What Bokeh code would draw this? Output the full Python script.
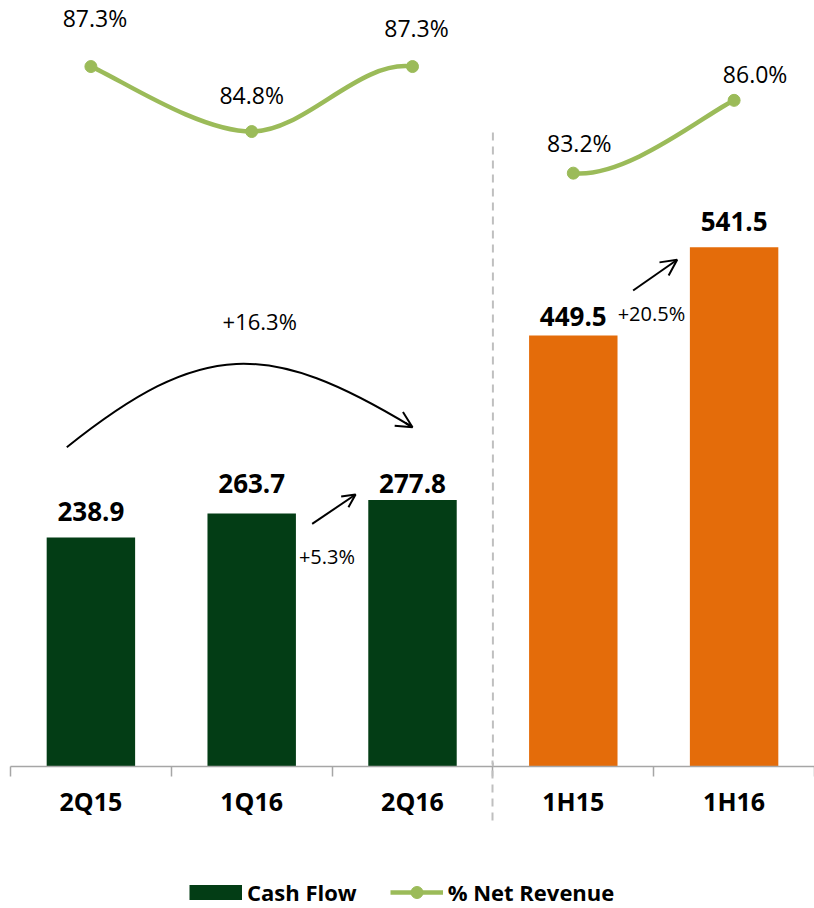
from bokeh.plotting import figure
from bokeh.layouts import column
from bokeh.models import (Range1d, FixedTicker, Arrow, OpenHead, Legend, LegendItem, LinearAxis)
from bokeh.core.properties import value
from bokeh.embed import file_html
from bokeh.resources import INLINE

# ---------------- data ----------------
categories = ["2Q15", "1Q16", "2Q16", "1H15", "1H16"]
cash_flow = [238.9, 263.7, 277.8, 449.5, 541.5]
net_revenue_pct = [87.3, 84.8, 87.3, 83.2, 86.0]
n_quarters = 3  # first three are quarters, the last two are half-years

# ---------------- style ----------------
DARK_GREEN = "#033D15"
ORANGE = "#E46C0A"
LINE_GREEN = "#9BBB59"
AXIS_GREY = "#A6A6A6"
SEP_GREY = "#BFBFBF"
FONT = "Open Sans"
TXT_SHIFT = -9  # vertical nudge of all in-plot texts (px)

xs = [i + 0.5 for i in range(len(categories))]
bar_colors = [DARK_GREEN] * n_quarters + [ORANGE] * (len(categories) - n_quarters)

p = figure(width=814, height=850,
           x_range=Range1d(0, len(categories)), y_range=Range1d(0, 798.75),
           output_backend="svg", toolbar_location=None,
           y_axis_location=None, x_axis_location="below",
           min_border_left=10, min_border_right=0, min_border_top=0,
           min_border_bottom=84)
p.extra_y_ranges = {"pct": Range1d(60.38, 89.84)}
p.xgrid.visible = False
p.ygrid.visible = False
p.outline_line_color = None
p.background_fill_color = "white"
p.border_fill_color = "white"

# ---------------- x axis ----------------
ax = p.xaxis[0]
ax.ticker = FixedTicker(ticks=xs, minor_ticks=list(range(len(categories) + 1)))
ax.major_label_overrides = {x: c for x, c in zip(xs, categories)}
ax.axis_line_color = AXIS_GREY
ax.axis_line_width = 1.5
ax.major_tick_out = 0
ax.major_tick_in = 0
ax.major_tick_line_color = None
ax.minor_tick_out = 10
ax.minor_tick_in = 0
ax.minor_tick_line_color = AXIS_GREY
ax.minor_tick_line_width = 1.5
ax.major_label_text_font = FONT
ax.major_label_text_font_style = "bold"
ax.major_label_text_font_size = "25px"
ax.major_label_text_color = "black"
ax.major_label_standoff = 7

# second (label-less) axis that only carries the dashed separator below the axis line
sep_axis = LinearAxis(ticker=FixedTicker(ticks=[n_quarters], minor_ticks=[]),
                      major_label_overrides={n_quarters: ""},
                      major_label_text_font_size="1px", major_label_standoff=0,
                      axis_line_color=None, minor_tick_line_color=None,
                      major_tick_in=60, major_tick_out=0,
                      major_tick_line_color=SEP_GREY, major_tick_line_width=2,
                      major_tick_line_dash="8 6")
p.add_layout(sep_axis, "below")

# ---------------- bars ----------------
p.vbar(x=xs, top=cash_flow, width=0.55, fill_color=bar_colors, line_color=None)

bar_label_dy = [d + TXT_SHIFT for d in [-17, -21, -8, -10, -17]]
p.text(x=xs, y=cash_flow, text=[f"{v:.1f}" for v in cash_flow],
       y_offset=bar_label_dy, text_align="center", text_baseline="alphabetic",
       text_font=value(FONT), text_font_style="bold", text_font_size="26px",
       text_color="black")

# ---------------- smoothed % line (Catmull-Rom style bezier) ----------------
pts = list(zip(xs, net_revenue_pct))
def ctrl(i, j):
    a = pts[max(i - 1, 0)]
    b = pts[i]
    c = pts[j]
    d = pts[min(j + 1, len(pts) - 1)]
    c0 = (b[0] + (c[0] - a[0]) / 6, b[1] + (c[1] - a[1]) / 6)
    c1 = (c[0] - (d[0] - b[0]) / 6, c[1] - (d[1] - b[1]) / 6)
    return b, c0, c1, c

segments = [(0, 1), (1, 2), (3, 4)]
sx0, sy0, sx1, sy1, scx0, scy0, scx1, scy1 = ([] for _ in range(8))
for i, j in segments:
    b, c0, c1, c = ctrl(i, j)
    sx0.append(b[0]); sy0.append(b[1]); sx1.append(c[0]); sy1.append(c[1])
    scx0.append(c0[0]); scy0.append(c0[1]); scx1.append(c1[0]); scy1.append(c1[1])

p.bezier(x0=sx0, y0=sy0, x1=sx1, y1=sy1, cx0=scx0, cy0=scy0, cx1=scx1, cy1=scy1,
         line_color=LINE_GREEN, line_width=4.5, y_range_name="pct")
pct_pts = p.scatter(x=xs, y=net_revenue_pct, size=12, marker="circle",
                    fill_color=LINE_GREEN, line_color=LINE_GREEN, y_range_name="pct")

pct_dx = [4, 0, 4, 6, 21]
pct_dy = [d + TXT_SHIFT for d in [-40, -28, -30, -21, -17]]
p.text(x=xs, y=net_revenue_pct, text=[f"{v:.1f}%" for v in net_revenue_pct],
       x_offset=pct_dx, y_offset=pct_dy, y_range_name="pct",
       text_align="center", text_baseline="alphabetic",
       text_font=value(FONT), text_font_size="23px", text_color="black")

# ---------------- separator (inside the plot area) ----------------
p.add_layout(Arrow(end=None, x_start=n_quarters, y_start=661, x_end=n_quarters, y_end=0,
                   line_color=SEP_GREY, line_width=2, line_dash="8 6"))

# ---------------- growth annotations ----------------
def growth(a, b):
    return f"+{(b / a - 1) * 100:.1f}%"

# curved arrow 2Q15 -> 2Q16
a0 = (xs[0] - 0.15, cash_flow[0] + 94)
a3 = (xs[2], cash_flow[2] + 76)
a1 = (xs[1] - 0.308, cash_flow[2] + 168)
a2 = (xs[1] + 0.103, cash_flow[2] + 167)
p.bezier(x0=[a0[0]], y0=[a0[1]], x1=[a3[0]], y1=[a3[1]],
         cx0=[a1[0]], cy0=[a1[1]], cx1=[a2[0]], cy1=[a2[1]],
         line_color="black", line_width=2)
eps = 0.05
p.add_layout(Arrow(end=OpenHead(size=16, line_width=2, line_color="black"),
                   x_start=a3[0] - eps * (a3[0] - a2[0]), y_start=a3[1] - eps * (a3[1] - a2[1]),
                   x_end=a3[0], y_end=a3[1], line_width=2, line_color="black"))

# straight arrows
p.add_layout(Arrow(end=OpenHead(size=13, line_width=2, line_color="black"),
                   x_start=xs[1] + 0.376, y_start=cash_flow[1] - 10.7,
                   x_end=xs[2] - 0.354, y_end=cash_flow[2] + 5.8,
                   line_width=2, line_color="black"))
p.add_layout(Arrow(end=OpenHead(size=16, line_width=2, line_color="black"),
                   x_start=xs[3] + 0.372, y_start=cash_flow[3] + 46.8,
                   x_end=xs[4] - 0.354, y_end=cash_flow[4] - 13.1,
                   line_width=2, line_color="black"))

g_x = [xs[1] + 0.05, xs[1] + 0.468, xs[3] + 0.486]
g_y = [cash_flow[2] + 177, cash_flow[1] - 54, cash_flow[3] + 13.8]
g_t = [growth(cash_flow[0], cash_flow[2]), growth(cash_flow[1], cash_flow[2]),
       growth(cash_flow[3], cash_flow[4])]
g_s = ["22px", "20px", "20px"]
for x, y, t, s in zip(g_x, g_y, g_t, g_s):
    p.text(x=[x], y=[y], text=[t], y_offset=TXT_SHIFT,
           text_align="center", text_baseline="alphabetic",
           text_font=value(FONT), text_font_size=s, text_color="black")

# ---------------- legend (own strip below the chart) ----------------
leg = figure(width=814, height=58, x_range=Range1d(0, 1), y_range=Range1d(0, 1),
             output_backend="svg", toolbar_location=None,
             x_axis_location=None, y_axis_location=None,
             min_border=0, min_border_left=0, min_border_right=0,
             min_border_top=0, min_border_bottom=0)
leg.xgrid.visible = False
leg.ygrid.visible = False
leg.outline_line_color = None
leg.background_fill_color = "white"
leg.border_fill_color = "white"

# key renderers carry the series data but lie outside this strip's ranges (only their keys show)
cash_key = leg.line(x=xs, y=cash_flow, line_color=DARK_GREEN, line_width=15)
pct_key = leg.line(x=xs, y=net_revenue_pct, line_color=LINE_GREEN, line_width=4.5)
pct_key_pt = leg.scatter(x=xs, y=net_revenue_pct, size=12, marker="circle",
                         fill_color=LINE_GREEN, line_color=LINE_GREEN)
legend = Legend(items=[LegendItem(label="Cash Flow", renderers=[cash_key]),
                       LegendItem(label="% Net Revenue", renderers=[pct_key, pct_key_pt])],
                location=(179, 1), orientation="horizontal",
                glyph_width=53, glyph_height=30, label_standoff=5, spacing=33,
                padding=0, margin=0, border_line_color=None, background_fill_alpha=0,
                label_text_font=FONT, label_text_font_style="bold",
                label_text_font_size="22px", label_text_color="black")
leg.add_layout(legend)

layout = column(p, leg, spacing=0)
open("out.html", "w").write(file_html(layout, INLINE))
